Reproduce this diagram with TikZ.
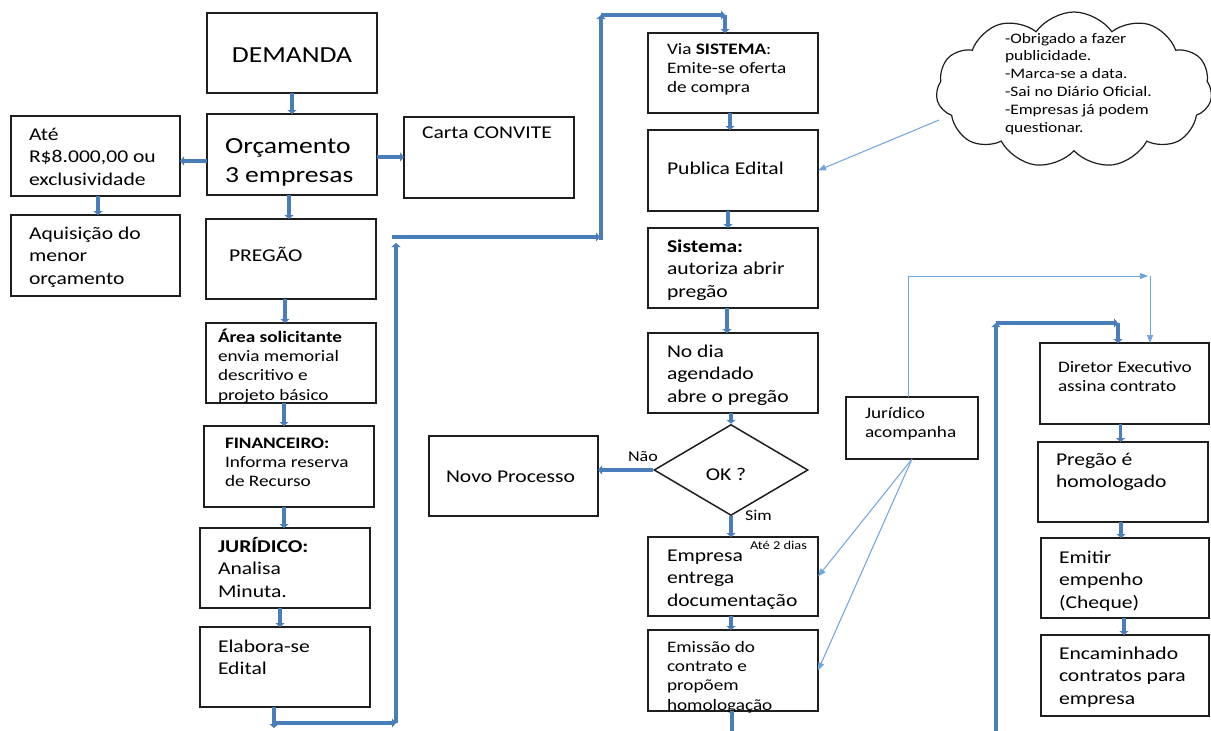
\documentclass[tikz,border=0pt]{standalone}
\usepackage{fontspec}
\setmainfont{Carlito}[FakeStretch=1.2]
\usetikzlibrary{arrows.meta,shapes.geometric,shapes.symbols,calc}
\definecolor{flowblue}{RGB}{74,126,187}
\definecolor{thinblue}{RGB}{110,165,222}
\definecolor{boxline}{RGB}{30,30,30}
\tikzset{
 box/.style={draw=boxline, line width=1.5pt, inner sep=0pt, outer sep=0pt, anchor=north west},
 lbl/.style={anchor=base west, inner sep=0pt, outer sep=0pt, align=left},
 fA/.style={font=\fontsize{23}{29}\selectfont},
 fB/.style={font=\fontsize{18}{22.5}\selectfont},
 fC/.style={font=\fontsize{16}{19.4}\selectfont},
 fD/.style={font=\fontsize{14.5}{17.8}\selectfont},
 fE/.style={font=\fontsize{15}{18}\selectfont},
 fF/.style={font=\fontsize{12}{14}\selectfont},
 flow/.style={draw=flowblue, line width=3.8pt, -{Triangle[length=4pt,width=9pt]}},
 flowplain/.style={draw=flowblue, line width=3.8pt},
 thinflow/.style={draw=thinblue, line width=1pt, -{Triangle[length=8pt,width=6pt]}},
 thinplain/.style={draw=thinblue, line width=1pt},
}
\newcommand\mkbox[5]{\node[box,minimum width={#4-#2},minimum height={#5-#3}] (#1) at (#2,#3) {};}
\begin{document}
\begin{tikzpicture}[x=1pt,y=-1pt]
\useasboundingbox (0,0) rectangle (1211,731);
\fill[white] (0,0) rectangle (1211,731);
% boxes
\mkbox{dem}{207}{13}{377}{93}
\mkbox{orc}{207}{114}{377}{195}
\mkbox{ate}{11}{116}{180}{196}
\mkbox{aqu}{11}{215}{180}{296}
\mkbox{car}{404}{117}{574}{198}
\mkbox{pre}{206}{219}{376}{299}
\mkbox{are}{206}{323}{376}{403}
\mkbox{fin}{204}{426}{374}{507}
\mkbox{jur}{200}{528}{370}{608}
\mkbox{ela}{200}{627}{370}{707}
\mkbox{nov}{429}{436}{598}{516}
\mkbox{via}{648}{33}{818}{113}
\mkbox{pub}{648}{130}{818}{211}
\mkbox{sis}{648}{228}{818}{308}
\mkbox{nod}{648}{333}{818}{413}
\mkbox{emp}{648}{537}{818}{616}
\mkbox{emi}{648}{630}{818}{711}
\mkbox{jua}{846}{397}{978}{459}
\mkbox{dir}{1040}{343}{1209}{424}
\mkbox{hom}{1038}{442}{1208}{522}
\mkbox{emt}{1041}{538}{1209}{618}
\mkbox{enc}{1041}{635}{1209}{716}
\node[diamond, draw=boxline, line width=1.5pt, inner sep=0pt, minimum width=154pt, minimum height=91pt] (dia) at (731,470) {};
\node[cloud, draw=boxline, line width=1.2pt, cloud puffs=11, cloud puff arc=110, aspect=1.7, minimum width=276pt, minimum height=156pt, inner sep=0pt] (cld) at (1074,90) {};
% texts (anchor = baseline of the last line)
\node[lbl, fA, anchor=base] (demt) at (292,62) {DEMANDA};
\node[lbl, fA] (orct) at (225,182) {Orçamento\\3 empresas};
\node[lbl, fB] (atet) at (29,185) {Até\\R\$8.000,00 ou\\exclusividade};
\node[lbl, fB] (aqut) at (29,284) {Aquisição do\\menor\\orçamento};
\node[lbl, fB] (cart) at (422,138) {Carta CONVITE};
\node[lbl, fB] (pret) at (229,261) {PREGÃO};
\node[lbl, fC] (aret) at (218,400.2) {\textbf{Área solicitante}\\envia memorial\\descritivo e\\projeto básico};
\node[lbl, fC] (fint) at (225,486.8) {\textbf{FINANCEIRO:}\\Informa reserva\\de Recurso};
\node[lbl, fB] (jurt) at (218,597) {\textbf{JURÍDICO:}\\Analisa\\Minuta.};
\node[lbl, fB] (elat) at (218,674.5) {Elabora-se\\Edital};
\node[lbl, fB] (novt) at (446,482) {Novo Processo};
\node[lbl, fC] (viat) at (667,92.8) {Via \textbf{SISTEMA}:\\Emite-se oferta\\de compra};
\node[lbl, fB] (pubt) at (667,174) {Publica Edital};
\node[lbl, fB] (sist) at (667,297) {\textbf{Sistema:}\\autoriza abrir\\pregão};
\node[lbl, fB] (nodt) at (667,402) {No dia\\agendado\\abre o pregão};
\node[lbl, fB, anchor=base] (diat) at (726,480) {OK ?};
\node[lbl, fE] (naot) at (628,461) {Não};
\node[lbl, fE] (simt) at (745,520) {Sim};
\node[lbl, fB] (empt) at (667,606) {Empresa\\entrega\\documentação};
\node[lbl, fF] (dois) at (750,549) {Até 2 dias};
\node[lbl, fC] (emit) at (667,710.2) {Emissão do\\contrato e\\propõem\\homologação};
\node[lbl, fC] (juat) at (865,437.4) {Jurídico\\acompanha};
\node[lbl, fC] (dirt) at (1058,391.4) {Diretor Executivo\\assina contrato};
\node[lbl, fB] (homt) at (1056,487.5) {Pregão é\\homologado};
\node[lbl, fB] (emtt) at (1059,608) {Emitir\\empenho\\(Cheque)};
\node[lbl, fB] (enct) at (1059,704) {Encaminhado\\contratos para\\empresa};
\node[lbl, fD] (cldt) at (1005,132) {-Obrigado a fazer\\publicidade.\\-Marca-se a data.\\-Sai no Diário Oficial.\\-Empresas já podem\\questionar.};
% coordinates
\coordinate (c1) at (274,728);
\coordinate (c2) at (274,723);
\coordinate (c3) at (396,723);
\coordinate (c4) at (396,243);
\coordinate (c5) at (392,237);
\coordinate (c6) at (600,237);
\coordinate (c7) at (601,240);
\coordinate (c8) at (601,15);
\coordinate (c9) at (725,15);
\coordinate (d1) at (996,731);
\coordinate (d2) at (996,323);
\coordinate (d3) at (1118,323);
\coordinate (e1) at (732,731);
\coordinate (k1) at (939,120);
\coordinate (j2) at (1148,276);
\coordinate (j3) at (1150,276);
% thick connectors
\draw[flow] (dem.south) -- (orc.north);
\draw[flow] ($(orc.west)+(0,6.5)$) -- ($(orc.west -| ate.east)+(0,6.5)$);
\draw[flow] ($(orc.east)+(0,2.5)$) -- ($(orc.east -| car.west)+(0,2.5)$);
\draw[flow] ($(ate.south)+(2.5,0)$) -- ($(ate.south |- aqu.north)+(2.5,0)$);
\draw[flow] ($(orc.south)+(-3,0)$) -- ($(orc.south |- pre.north)+(-3,0)$);
\draw[flow] ($(pre.south)+(-6,0)$) -- ($(pre.south |- are.north)+(-6,0)$);
\draw[flow] ($(are.south)+(-7,0)$) -- ($(are.south |- fin.north)+(-7,0)$);
\draw[flow] ($(fin.south)+(-5,0)$) -- ($(fin.south |- jur.north)+(-5,0)$);
\draw[flow] ($(jur.south)+(-5,0)$) -- ($(jur.south |- ela.north)+(-5,0)$);
\draw[flow] ($(ela.south)+(-11,0)$) -- (c1);
\draw[flow] (c2) -- (c3);
\draw[flow] (c3) -- (c4);
\draw[flow] (c5) -- (c6);
\draw[flow] (c7) -- (c8);
\draw[flow] (c8) -- (c9);
\draw[flow] (c9) -- (c9 |- via.north);
\draw[flow] ($(via.south)+(-3,0)$) -- ($(via.south |- pub.north)+(-3,0)$);
\draw[flow] ($(pub.south)+(-5,0)$) -- ($(pub.south |- sis.north)+(-5,0)$);
\draw[flow] ($(sis.south)+(-6,0)$) -- ($(sis.south |- nod.north)+(-6,0)$);
\draw[flow] ($(nod.south)+(-2,0)$) -- (dia.north);
\draw[flow] (dia.west) -- (dia.west -| nov.east);
\draw[flow] (dia.south) -- (dia.south |- emp.north);
\draw[flow] ($(emp.south)+(-2,0)$) -- ($(emp.south |- emi.north)+(-2,0)$);
\draw[flowplain] ($(emi.south)+(-1,0)$) -- (e1);
\draw[flow] (d1) -- (d2);
\draw[flow] (d2) -- (d3);
\draw[flow] (d3) -- (d3 |- dir.north);
\draw[flow] ($(dir.south)+(-4,0)$) -- ($(dir.south |- hom.north)+(-4,0)$);
\draw[flow] ($(hom.south)+(-2,0)$) -- ($(hom.south |- emt.north)+(-2,0)$);
\draw[flow] ($(emt.south)+(-1,0)$) -- ($(emt.south |- enc.north)+(-1,0)$);
% thin connectors
\draw[thinflow] (k1) -- (pub.east);
\draw[thinflow] ($(jua.north)+(-4,0)$) |- (j2);
\draw[thinflow] (j3) -- (j3 |- dir.north);
\draw[thinflow] (jua.south) -- (emp.east);
\draw[thinflow] (jua.south) -- (emi.east);
\end{tikzpicture}
\end{document}
